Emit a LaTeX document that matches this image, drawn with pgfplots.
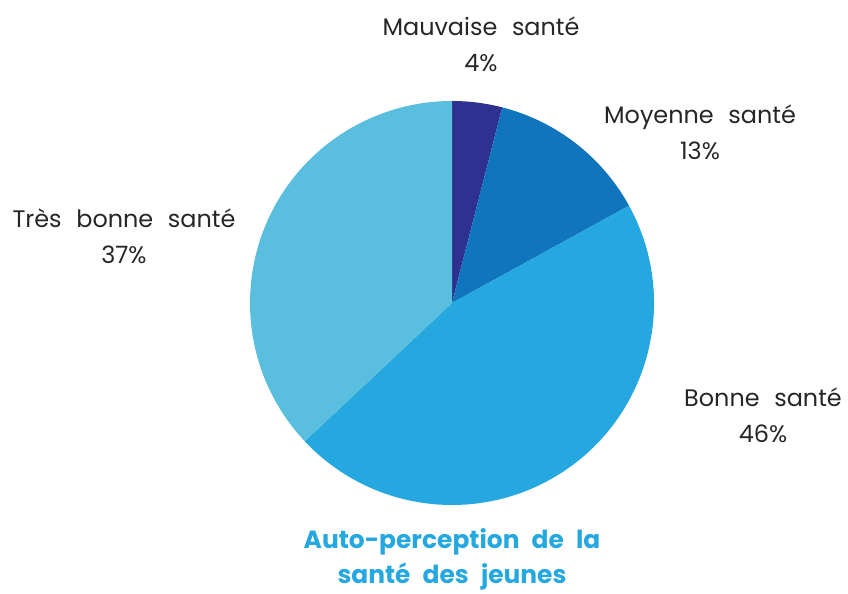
\documentclass[border=0pt]{standalone}
\usepackage{fontspec}
\setmainfont{Poppins}[WordSpace=2.3]
\usepackage{pgfplots}
\pgfplotsset{compat=1.18}

\definecolor{cMauv}{HTML}{2E3190}
\definecolor{cMoy}{HTML}{1075BC}
\definecolor{cBon}{HTML}{25A7DF}
\definecolor{cTres}{HTML}{5ABEDE}

% shares in percent, drawn clockwise from 12 o'clock
\def\pMauv{4}
\def\pMoy{13}
\def\pBon{46}
\def\pTres{37}

\begin{document}
\begin{tikzpicture}
\pgfmathsetmacro{\aA}{90}
\pgfmathsetmacro{\aB}{\aA-3.6*\pMauv}
\pgfmathsetmacro{\aC}{\aB-3.6*\pMoy}
\pgfmathsetmacro{\aD}{\aC-3.6*\pBon}
\pgfmathsetmacro{\aE}{\aD-3.6*\pTres}
\begin{axis}[
    scale only axis,
    width=848bp, height=589bp,
    xmin=0, xmax=848, ymin=0, ymax=589,
    hide axis, clip=false,
  ]
  \path (axis cs:0,0) rectangle (axis cs:848,589);
  \fill[cMauv] (axis cs:452,286) -- ++(\aA:202bp) arc[start angle=\aA, end angle=\aB, radius=202bp] -- cycle;
  \fill[cMoy]  (axis cs:452,286) -- ++(\aB:202bp) arc[start angle=\aB, end angle=\aC, radius=202bp] -- cycle;
  \fill[cBon]  (axis cs:452,286) -- ++(\aC:202bp) arc[start angle=\aC, end angle=\aD, radius=202bp] -- cycle;
  \fill[cTres] (axis cs:452,286) -- ++(\aD:202bp) arc[start angle=\aD, end angle=\aE, radius=202bp] -- cycle;

  \tikzset{lab/.style={align=center, font=\fontsize{24}{36}\selectfont, text=black!85}}
  \node[lab] at (axis cs:481,545) {Mauvaise santé\\\pMauv\%};
  \node[lab] at (axis cs:700,457) {Moyenne santé\\\pMoy\%};
  \node[lab] at (axis cs:124,353) {Très bonne santé\\\pTres\%};
  \node[lab] at (axis cs:763,174) {Bonne santé\\\pBon\%};
  \node[align=center, text=cBon, font=\fontsize{25}{35}\selectfont\bfseries]
    at (axis cs:452,30) {Auto-perception de la\\santé des jeunes};
\end{axis}
\end{tikzpicture}
\end{document}
